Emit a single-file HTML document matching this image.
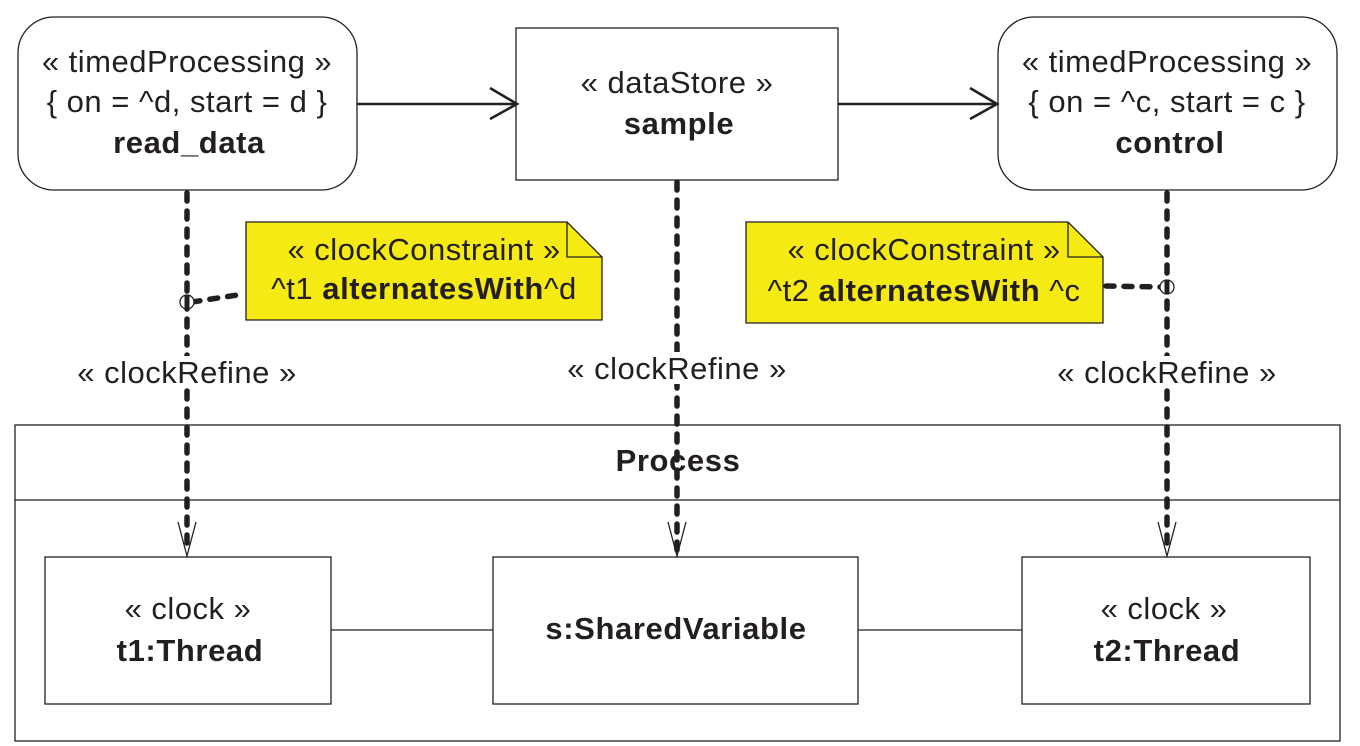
<!DOCTYPE html>
<html><head><meta charset="utf-8"><style>
html,body{margin:0;padding:0;background:#fff}
svg{display:block}
text{font-family:"Liberation Sans",Arial,sans-serif;fill:#231f20;letter-spacing:0.5px}
.b{font-weight:bold;letter-spacing:0.6px}
</style></head><body>
<svg width="1360" height="746" viewBox="0 0 1360 746" xmlns="http://www.w3.org/2000/svg">
<g fill="none" stroke="#231f20" stroke-width="1.3">
<rect x="18" y="17" width="339" height="173" rx="36"/>
<rect x="516" y="28" width="322" height="152"/>
<rect x="998" y="17" width="339" height="173" rx="36"/>
<rect x="15" y="425" width="1325" height="316"/>
<line x1="15" y1="500" x2="1340" y2="500"/>
<rect x="45" y="557" width="286" height="147"/>
<rect x="493" y="557" width="365" height="147"/>
<rect x="1022" y="557" width="288" height="147"/>
<line x1="331" y1="630" x2="493" y2="630"/>
<line x1="858" y1="630" x2="1022" y2="630"/>
</g>
<g fill="none" stroke="#231f20" stroke-width="2.6">
<line x1="357" y1="104" x2="517" y2="104"/>
<polyline points="490,88 517,104 490,119"/>
<line x1="838" y1="104" x2="997" y2="104"/>
<polyline points="970,88 997,104 970,119"/>
</g>
<g fill="#f5ea14" stroke="#231f20" stroke-width="1.3">
<path d="M246 222 H567 L602 257 V320 H246 Z"/>
<path d="M567 222 V257 H602" fill="none"/>
<path d="M746 222 H1068 L1103 257 V323 H746 Z"/>
<path d="M1068 222 V257 H1103" fill="none"/>
</g>
<g fill="none" stroke="#231f20" stroke-width="5.5" stroke-linecap="round" stroke-dasharray="8 10">
<line x1="187" y1="193" x2="187" y2="552"/>
<line x1="677" y1="182" x2="677" y2="552"/>
<line x1="1167" y1="193" x2="1167" y2="552"/>
<line x1="192" y1="302" x2="244" y2="294"/>
<line x1="1106" y1="286" x2="1161" y2="287"/>
</g>
<g fill="none" stroke="#231f20" stroke-width="1.3">
<circle cx="187" cy="302" r="7" fill="#fff"/>
<circle cx="1167" cy="287" r="7" fill="#fff"/>
<polyline points="178,522 187,556 196,522"/>
<polyline points="668,522 677,556 686,522"/>
<polyline points="1158,522 1167,556 1176,522"/>
</g>
<g stroke="#231f20" stroke-width="5">
<line x1="187" y1="295" x2="187" y2="309"/>
<line x1="1167" y1="280" x2="1167" y2="294"/>
</g>
<g fill="#fff">
<rect x="75" y="356" width="225" height="32"/>
<rect x="565" y="352" width="225" height="32"/>
<rect x="1055" y="356" width="225" height="32"/>
</g>
<g font-size="31" text-anchor="middle">
<text x="187" y="72">« timedProcessing »</text>
<text x="187" y="112">{ on = ^d, start = d }</text>
<text x="189" y="153" class="b">read_data</text>
<text x="677" y="93">« dataStore »</text>
<text x="679" y="134" class="b">sample</text>
<text x="1167" y="72">« timedProcessing »</text>
<text x="1167" y="112">{ on = ^c, start = c }</text>
<text x="1170" y="153" class="b">control</text>
<text x="424" y="260">« clockConstraint »</text>
<text x="424" y="299">^t1 <tspan class="b">alternatesWith</tspan>^d</text>
<text x="924" y="260">« clockConstraint »</text>
<text x="924" y="301">^t2 <tspan class="b">alternatesWith</tspan> ^c</text>
<text x="187" y="383">« clockRefine »</text>
<text x="677" y="379">« clockRefine »</text>
<text x="1167" y="383">« clockRefine »</text>
<text x="678" y="471" class="b">Process</text>
<text x="188" y="619">« clock »</text>
<text x="190" y="661" class="b">t1:Thread</text>
<text x="676" y="639" class="b">s:SharedVariable</text>
<text x="1164" y="619">« clock »</text>
<text x="1167" y="661" class="b">t2:Thread</text>
</g>
</svg>
</body></html>
